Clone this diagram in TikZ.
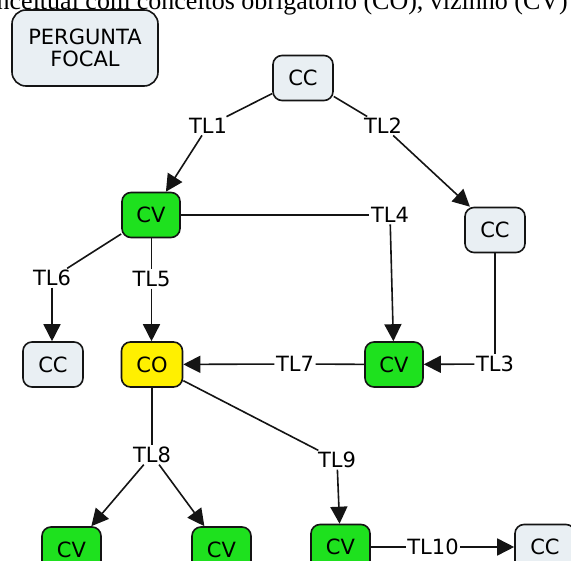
\documentclass[tikz,border=0pt]{standalone}
\usepackage{fontspec}
\setmainfont{DejaVu Sans}
\newfontfamily\capfont{Liberation Serif}
\usetikzlibrary{arrows.meta}
\definecolor{ccfill}{RGB}{233,239,243}
\definecolor{cvgreen}{RGB}{30,225,30}
\definecolor{coyellow}{RGB}{255,240,0}
\definecolor{edgecol}{RGB}{20,20,20}
\newcommand{\lblfont}{\fontsize{21}{25}\selectfont}
\tikzset{
  concept/.style={draw=edgecol, line width=1.6pt, rounded corners=9pt,
    minimum width=60pt, minimum height=45pt, inner sep=0pt, font=\lblfont},
  ccbox/.style={concept, fill=ccfill},
  cvbox/.style={concept, fill=cvgreen},
  cobox/.style={concept, fill=coyellow},
  linklbl/.style={inner sep=1.5pt, font=\lblfont},
  conn/.style={line width=1.6pt, draw=edgecol},
  arr/.style={conn, -{Triangle[length=17pt,width=17pt]}}
}
\begin{document}
\begin{tikzpicture}[x=1pt,y=-1pt]
\useasboundingbox (0,0) rectangle (571,561);
\fill[white] (0,0) rectangle (571,561);
\clip (0,0) rectangle (571,561);
% caption cut off at top
\node[anchor=base east, inner sep=0pt, font=\capfont\fontsize{26}{30}\selectfont] (cap) at (568,9.5) {conceitual com conceitos obrigatório (CO), vizinho (CV)};
% concepts
\node[ccbox, minimum width=146pt, minimum height=76pt, rounded corners=14pt, align=center] (pf) at (85,48) {PERGUNTA\\[-3pt]FOCAL};
\node[ccbox] (cct) at (303,78) {CC};
\node[cvbox, minimum width=58pt] (cv1) at (151,215) {CV};
\node[ccbox] (ccr) at (495,230) {CC};
\node[ccbox] (ccl) at (53,364.5) {CC};
\node[cobox, minimum width=61pt] (co) at (152,364.5) {CO};
\node[cvbox, minimum width=58pt] (cv2) at (394,364.5) {CV};
\node[cvbox, minimum width=59pt] (cv3) at (71.5,549.5) {CV};
\node[cvbox, minimum width=59pt] (cv4) at (221.5,549.5) {CV};
\node[cvbox, minimum width=59pt] (cv5) at (340.5,547) {CV};
\node[ccbox] (ccb) at (545,547) {CC};
% linking phrases
\node[linklbl] (tl1) at (208,126) {TL1};
\node[linklbl] (tl2) at (383,126) {TL2};
\node[linklbl] (tl4) at (390,215) {TL4};
\node[linklbl] (tl6) at (52,278) {TL6};
\node[linklbl] (tl5) at (151.5,279) {TL5};
\node[linklbl] (tl7) at (295,364) {TL7};
\node[linklbl] (tl3) at (495,364) {TL3};
\node[linklbl] (tl8) at (152,455) {TL8};
\node[linklbl] (tl9) at (337,460) {TL9};
\node[linklbl] (tl10) at (433,547) {TL10};
% connectors
\draw[conn] (cct) -- (tl1);
\draw[arr] (tl1) -- (cv1);
\draw[conn] (cct) -- (tl2);
\draw[arr] (tl2) -- (ccr);
\draw[conn] (cv1) -- (tl4);
\draw[arr] (tl4) -- (cv2);
\draw[conn] (ccr) -- (tl3);
\draw[arr] (tl3) -- (cv2);
\draw[conn] (cv2) -- (tl7);
\draw[arr] (tl7) -- (co);
\draw[conn] (cv1) -- (tl6);
\draw[arr] (tl6.south) -- (ccl.north -| tl6.south);
\draw[conn] (cv1.south -| tl5) -- (tl5);
\draw[arr] (tl5) -- (co.north -| tl5);
\draw[conn] (co) -- (tl8);
\draw[arr] (tl8) -- (cv3);
\draw[arr] (tl8) -- (cv4);
\draw[conn] (co) -- (tl9);
\draw[arr] (tl9) -- (cv5);
\draw[conn] (cv5) -- (tl10);
\draw[arr] (tl10) -- (ccb);
\end{tikzpicture}
\end{document}
